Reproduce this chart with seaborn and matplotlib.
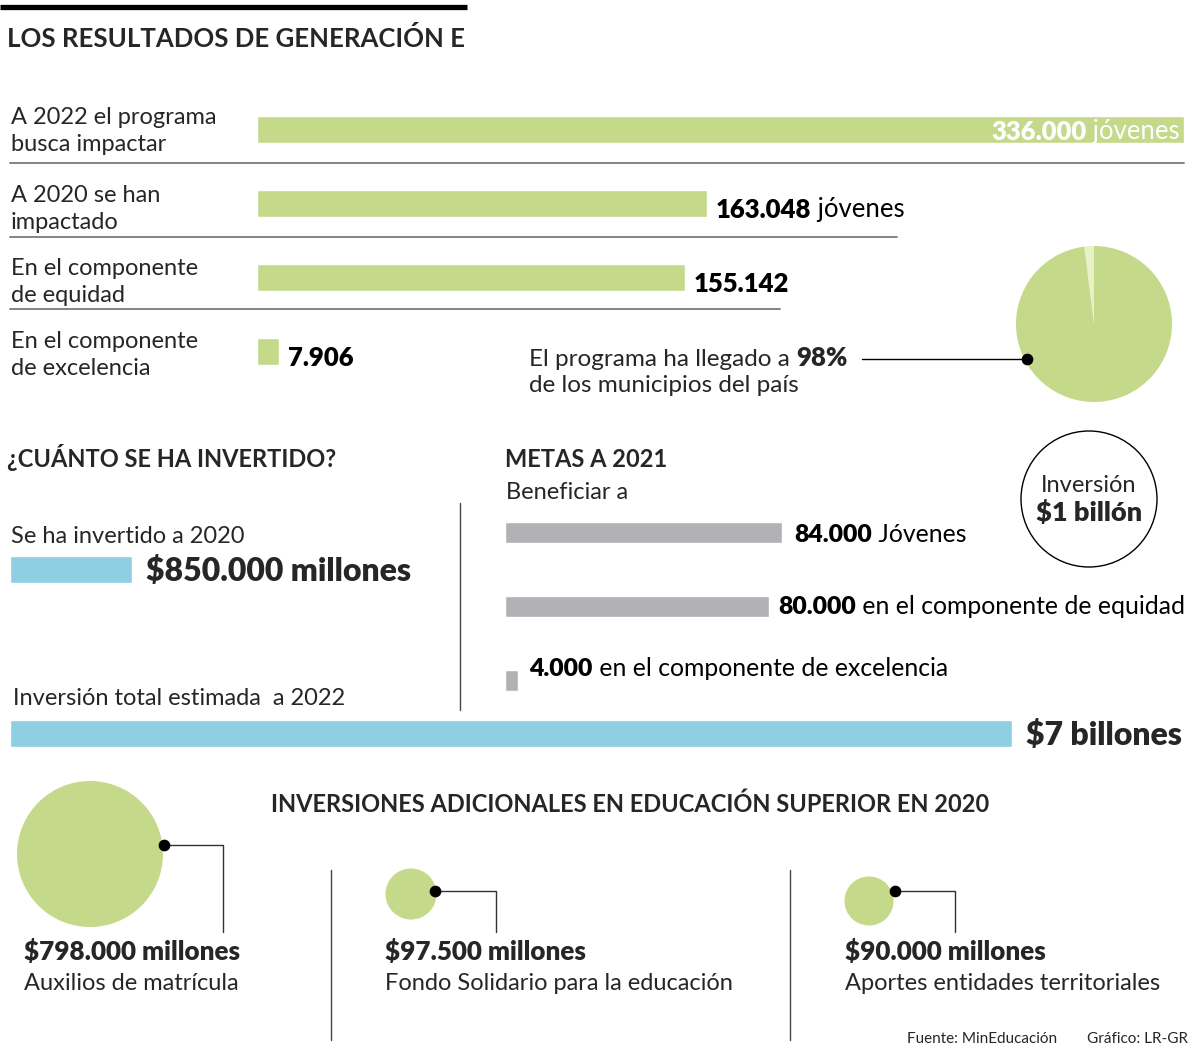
import matplotlib
matplotlib.use("Agg")
import matplotlib.pyplot as plt
import seaborn as sns
import pandas as pd
from matplotlib.patches import Circle

# --- data ---
resultados_labels = ["A 2022 el programa\nbusca impactar", "A 2020 se han\nimpactado",
                     "En el componente\nde equidad", "En el componente\nde excelencia"]
resultados_vals = [336000, 163048, 155142, 7906]
resultados_txt = ["336.000", "163.048", "155.142", "7.906"]
resultados_sufijo = [" jóvenes", " jóvenes", "", ""]

municipios = [2, 98]  # % sin programa / con programa

inversion_labels = ["Se ha invertido a 2020", "Inversión total estimada  a 2022"]
inversion_vals = [850000, 7000000]  # millones de pesos
inversion_txt = ["$850.000 millones", "$7 billones"]

metas_vals = [84000, 80000, 4000]
metas_txt = ["84.000", "80.000", "4.000"]
metas_sufijo = [" Jóvenes", " en el componente de equidad", " en el componente de excelencia"]

adic_vals = [798000, 97500, 90000]
adic_txt = ["$798.000 millones", "$97.500 millones", "$90.000 millones"]
adic_labels = ["Auxilios de matrícula", "Fondo Solidario para la educación",
               "Aportes entidades territoriales"]

GREEN = "#c5d98a"
GREEN_LT = "#e8f0c6"
BLUE = "#8fcfe4"
GRAY = "#b1b1b6"
FONT = "Lato"

W, H = 1200, 1051
sns.set_style("white")
plt.rcParams["font.family"] = [FONT, "DejaVu Sans"]

fig = plt.figure(figsize=(W / 100, H / 100), dpi=100)


def rect(x0, y0, x1, y1):
    # pixel box (top-left origin) -> figure fraction
    return [x0 / W, 1 - y1 / H, (x1 - x0) / W, (y1 - y0) / H]


# overlay axes in pixel coordinates for text and rules
ax0 = fig.add_axes([0, 0, 1, 1])
ax0.set_zorder(10)
ax0.patch.set_alpha(0)

BODY = 17
BOLD = 18.5
HEAD = 17
WB = "heavy"  # weight for the numbers


def pair(ax, xy, bold, reg, size, coords="data", offset=(0, 0), color="black", right=False):
    # bold text followed by regular text on the same baseline
    if not right:
        t = ax.annotate(bold, xy=xy, xycoords=coords, xytext=offset, textcoords="offset pixels",
                        fontsize=size, fontweight=WB, color=color, va="baseline", ha="left")
        if reg:
            ax.annotate(reg, xy=(1, 0), xycoords=t, fontsize=size, color=color,
                        va="bottom", ha="left")
    else:
        t = ax.annotate(reg, xy=xy, xycoords=coords, xytext=offset, textcoords="offset pixels",
                        fontsize=size, color=color, va="baseline", ha="right")
        ax.annotate(bold, xy=(0, 0), xycoords=t, fontsize=size, fontweight=WB, color=color,
                    va="bottom", ha="right")
    return t


# header
ax0.plot([0, 467], [7, 7], color="black", lw=3.8, solid_capstyle="butt")
ax0.text(7, 47, "LOS RESULTADOS DE GENERACIÓN E", fontsize=18.5, fontweight="bold", va="baseline")

# --- top bars ---
ax_res = fig.add_axes(rect(257, 93, 1184, 388.5))
df_res = pd.DataFrame({"cat": resultados_labels, "val": resultados_vals})
sns.barplot(data=df_res, x="val", y="cat", orient="h", color=GREEN, saturation=1,
            width=0.366, ax=ax_res)
ax_res.set_xlim(0, max(resultados_vals))
ax_res.set_ylim(len(resultados_vals) - 0.5, -0.5)
ax_res.axis("off")

for i, lab in enumerate(resultados_labels):
    ax0.text(11, [131, 209, 282, 355][i], lab, fontsize=BODY, va="center", ha="left",
             linespacing=1.3)

pair(ax_res, (resultados_vals[0], 0), resultados_txt[0], resultados_sufijo[0], BOLD,
     offset=(-4, -9), color="white", right=True)
for i in range(1, 4):
    pair(ax_res, (resultados_vals[i], i), resultados_txt[i], resultados_sufijo[i], BOLD,
         offset=(9, -14))

for y, x1 in [(163, 1184), (237, 897), (309, 780)]:
    ax0.plot([10, x1], [y, y], color="#7a7a7a", lw=1.3)

# pie: municipios
ax_pie = fig.add_axes(rect(1016, 246, 1172, 402))
ax_pie.pie(municipios, colors=[GREEN_LT, GREEN], startangle=90, counterclock=True,
           wedgeprops=dict(linewidth=0))
ax_pie.set_xlim(-1, 1)
ax_pie.set_ylim(-1, 1)
ax_pie.set_aspect("equal")
ax_pie.axis("off")
ax0.plot([862, 1027], [359, 359], color="black", lw=1)
ax0.scatter([1027], [359], s=55, color="black", zorder=5)
t = ax0.text(529, 366, "El programa ha llegado a ", fontsize=BODY + 0.5, va="baseline")
ax0.annotate(f"{municipios[1]}%", xy=(1, 0), xycoords=t, fontsize=BOLD, fontweight=WB,
             va="bottom", ha="left")
ax0.text(529, 392, "de los municipios del país", fontsize=BODY + 0.5, va="baseline")

# --- inversion ---
ax0.text(7, 467, "¿CUÁNTO SE HA INVERTIDO?", fontsize=HEAD, fontweight="bold", va="baseline")
ax0.text(11, 543, inversion_labels[0], fontsize=BODY, va="baseline")
ax0.text(13, 705, inversion_labels[1], fontsize=BODY, va="baseline")

ax_inv = fig.add_axes(rect(10, 487.5, 1012, 815.5))
df_inv = pd.DataFrame({"cat": inversion_labels, "val": inversion_vals})
sns.barplot(data=df_inv, x="val", y="cat", orient="h", color=BLUE, saturation=1,
            width=0.165, ax=ax_inv)
ax_inv.set_xlim(0, max(inversion_vals))
ax_inv.set_ylim(1.5, -0.5)
ax_inv.axis("off")
for i in range(2):
    ax_inv.annotate(inversion_txt[i], xy=(inversion_vals[i], i), xytext=(14, -11),
                    textcoords="offset pixels", fontsize=23, fontweight=WB, va="baseline")

ax0.plot([460, 460], [503, 710], color="#444444", lw=1)

# --- metas ---
ax0.text(505, 467, "METAS A 2021", fontsize=HEAD, fontweight="bold", va="baseline")
ax0.text(506, 499, "Beneficiar a", fontsize=BODY, va="baseline")

ax_met = fig.add_axes(rect(505, 495.6, 782, 716.9))
df_met = pd.DataFrame({"cat": metas_txt, "val": metas_vals})
sns.barplot(data=df_met, x="val", y="cat", orient="h", color=GRAY, saturation=1,
            width=0.285, ax=ax_met)
ax_met.set_xlim(0, max(metas_vals))
ax_met.set_ylim(2.5, -0.5)
ax_met.axis("off")
for i, off in enumerate([(12, -10), (9, -8), (11, 4)]):
    pair(ax_met, (metas_vals[i], i), metas_txt[i], metas_sufijo[i], BODY + 0.8, offset=off)

ax0.add_patch(Circle((1089, 499), 68, facecolor="none", edgecolor="black", lw=1))
ax0.text(1089, 486, "Inversión", fontsize=BODY, ha="center", va="center")
ax0.text(1089, 512, "$1 billón", fontsize=19.5, fontweight=WB, ha="center", va="center")

# --- inversiones adicionales ---
ax0.text(630, 812, "INVERSIONES ADICIONALES EN EDUCACIÓN SUPERIOR EN 2020", fontsize=HEAD,
         fontweight="bold", ha="center", va="baseline")

bub_x = [90, 411, 869]
bub_y = [854, 894, 901]
df_adic = pd.DataFrame({"x": bub_x, "y": bub_y, "val": adic_vals})
sns.scatterplot(data=df_adic, x="x", y="y", size="val", sizes=(0, 11050),
                size_norm=(0, max(adic_vals)), color=GREEN, linewidth=0, legend=False, ax=ax0)

for (dx, dy, lx) in [(164, 845, 223), (435, 891, 496), (895, 891, 955)]:
    ax0.plot([dx, lx, lx], [dy, dy, 932], color="#333333", lw=1)
    ax0.scatter([dx], [dy], s=55, color="black", zorder=5)

for x, v, lab in zip([24, 385, 845], adic_txt, adic_labels):
    ax0.text(x, 960, v, fontsize=BOLD + 0.2, fontweight=WB, va="baseline")
    ax0.text(x, 990, lab, fontsize=BODY, va="baseline")

for x in [331, 790]:
    ax0.plot([x, x], [870, 1040], color="#444444", lw=1)

ax0.text(907, 1043, "Fuente: MinEducación", fontsize=11, va="baseline")
ax0.text(1188, 1043, "Gráfico: LR-GR", fontsize=11, va="baseline", ha="right")

ax0.set_xlim(0, W)
ax0.set_ylim(H, 0)
ax0.axis("off")

fig.savefig("out.png", dpi=100, facecolor="white")
